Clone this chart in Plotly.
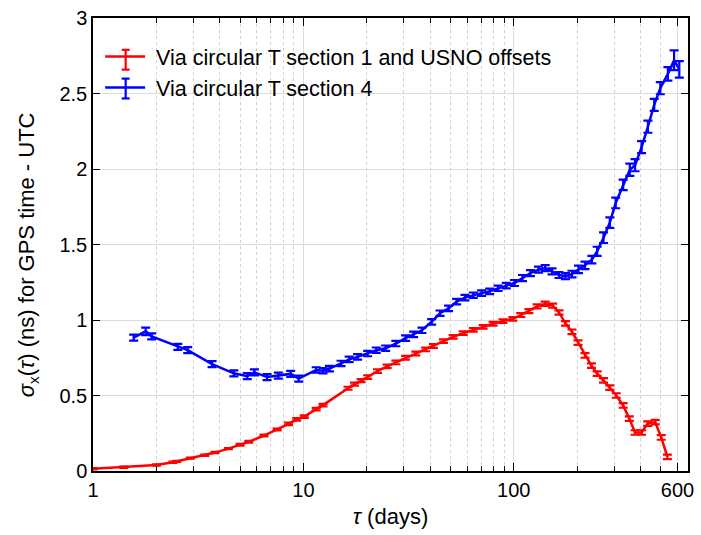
import plotly.graph_objects as go

# Averaging time (days) and deviation (ns) for the two GPS time - UTC estimates
tau_red = [1.0, 1.4, 2.0, 2.4, 2.5, 2.9, 3.4, 3.8, 4.4, 5.0, 5.5, 6.5, 7.5, 8.5,
           9.3, 10.1, 11.5, 12.4, 16.3, 17.5, 18.8, 20.2, 22.5, 25.0, 27.5, 30.6,
           34.2, 38.1, 41.5, 46.3, 51.5, 57.5, 64.2, 71.5, 79.8, 88.8, 99, 108,
           118, 129, 141, 153, 164, 176, 189, 202, 218, 234, 249, 267, 286, 307,
           331, 354, 377, 405, 433, 470, 502, 537]
sigma_red = [0.015, 0.025, 0.040, 0.058, 0.064, 0.085, 0.104, 0.122, 0.148, 0.174,
             0.193, 0.235, 0.275, 0.312, 0.342, 0.360, 0.410, 0.436, 0.548, 0.575,
             0.598, 0.622, 0.662, 0.693, 0.719, 0.750, 0.778, 0.805, 0.828, 0.860,
             0.888, 0.913, 0.935, 0.955, 0.975, 0.993, 1.008, 1.033, 1.059, 1.090,
             1.108, 1.095, 1.050, 0.978, 0.922, 0.850, 0.765, 0.698, 0.645, 0.600,
             0.552, 0.500, 0.434, 0.347, 0.255, 0.255, 0.314, 0.324, 0.222, 0.094]
err_red = [0.004, 0.004, 0.004, 0.004, 0.004, 0.004, 0.004, 0.004, 0.004, 0.006,
           0.006, 0.006, 0.006, 0.008, 0.008, 0.008, 0.008, 0.008, 0.010, 0.010,
           0.010, 0.012, 0.012, 0.012, 0.012, 0.012, 0.012, 0.012, 0.012, 0.012,
           0.012, 0.012, 0.012, 0.012, 0.012, 0.012, 0.012, 0.013, 0.013, 0.013,
           0.014, 0.014, 0.014, 0.015, 0.015, 0.015, 0.015, 0.015, 0.015, 0.015,
           0.015, 0.015, 0.015, 0.015, 0.015, 0.015, 0.015, 0.015, 0.015, 0.015]

tau_blue = [1.56, 1.78, 1.90, 2.53, 2.82, 3.68, 4.67, 5.41, 5.85, 6.72, 7.60, 8.70,
            9.50, 11.5, 12.4, 13.3, 15.1, 16.5, 18.1, 20.2, 22.2, 24.6, 27.5, 30.6,
            33.4, 36.6, 40.7, 44.6, 49.0, 53.5, 58.6, 64.2, 70.3, 76.8, 84.2, 92.1,
            100.8, 110, 120, 131, 141, 152, 164, 176, 189, 203, 218, 235, 249, 267,
            286, 305, 331, 356, 377, 405, 434, 465, 497, 540, 578, 612]
sigma_blue = [0.883, 0.925, 0.892, 0.822, 0.800, 0.708, 0.647, 0.628, 0.653, 0.622,
              0.632, 0.643, 0.612, 0.669, 0.664, 0.678, 0.712, 0.739, 0.756, 0.778,
              0.800, 0.813, 0.844, 0.880, 0.905, 0.932, 0.988, 1.045, 1.077, 1.122,
              1.148, 1.164, 1.178, 1.190, 1.210, 1.228, 1.245, 1.278, 1.310, 1.333,
              1.344, 1.322, 1.298, 1.290, 1.304, 1.335, 1.362, 1.400, 1.455, 1.545,
              1.645, 1.775, 1.895, 1.995, 2.025, 2.145, 2.280, 2.425, 2.535, 2.630,
              2.720, 2.660]
err_blue = [0.020, 0.025, 0.020, 0.020, 0.020, 0.020, 0.020, 0.020, 0.020, 0.020,
            0.020, 0.020, 0.020, 0.018, 0.018, 0.018, 0.018, 0.018, 0.018, 0.018,
            0.018, 0.018, 0.018, 0.018, 0.018, 0.018, 0.018, 0.018, 0.018, 0.018,
            0.018, 0.018, 0.018, 0.018, 0.018, 0.018, 0.020, 0.020, 0.020, 0.020,
            0.020, 0.020, 0.020, 0.020, 0.022, 0.025, 0.025, 0.025, 0.030, 0.035,
            0.035, 0.035, 0.035, 0.040, 0.040, 0.040, 0.040, 0.040, 0.040, 0.045,
            0.065, 0.055]

series_names = ["Via circular T section 1 and USNO offsets", "Via circular T section 4"]
series_colors = ["#ff0000", "#0000ff"]

x_tickvals = [1, 10, 100, 600]
x_ticktext = ["1", "10", "100", "600"]
x_minorvals = [2, 3, 4, 5, 6, 7, 8, 9, 20, 30, 40, 50, 60, 70, 80, 90,
               200, 300, 400, 500]
y_tickvals = [0, 0.5, 1, 1.5, 2, 2.5, 3]
y_ticktext = ["0", "0.5", "1", "1.5", "2", "2.5", "3"]

FONT = "Liberation Sans, Arial, Helvetica, sans-serif"

fig = go.Figure()
for tau, sig, err, name, color in [
    (tau_red, sigma_red, err_red, series_names[0], series_colors[0]),
    (tau_blue, sigma_blue, err_blue, series_names[1], series_colors[1]),
]:
    fig.add_trace(go.Scatter(
        x=tau, y=sig, mode="lines",
        name="&nbsp;" + name,
        line=dict(color=color, width=2.5),
        error_y=dict(type="data", array=err, color=color, thickness=2.2, width=4.5),
    ))

axis_common = dict(
    showline=True, linecolor="black", linewidth=1.5, mirror="allticks",
    ticks="inside", tickcolor="black", tickwidth=1.2,
    tickfont=dict(family=FONT, size=20, color="black"),
    zeroline=False,
)

fig.update_xaxes(
    type="log", range=[0, 2.828],
    tickvals=x_tickvals, ticktext=x_ticktext, ticklen=8,
    showgrid=True, gridcolor="#dcdcdc", gridwidth=1,
    minor=dict(tickvals=x_minorvals, ticks="inside", ticklen=5, tickcolor="black",
               showgrid=True, gridcolor="#d2d2d2", griddash="dot", gridwidth=1),
    title=dict(text="<i>τ</i> (days)", font=dict(family=FONT, size=22, color="black"),
               standoff=9),
    **axis_common,
)
fig.update_yaxes(
    range=[0, 3], tickvals=y_tickvals, ticktext=y_ticktext, ticklen=7,
    showgrid=True, gridcolor="#dcdcdc", gridwidth=1,
    **axis_common,
)

# y-axis label
fig.add_annotation(
    xref="paper", yref="paper", x=-0.108, y=0.478,
    xanchor="center", yanchor="middle",
    text="<i>σ</i><sub>x</sub>(<i>τ</i>) (ns) for GPS time - UTC",
    textangle=-90, showarrow=False,
    font=dict(family=FONT, size=22, color="black"),
)

# white panel behind the legend (hides the grid, stays under the curves)
fig.add_shape(type="rect", xref="paper", yref="paper",
              x0=0.003, x1=0.827, y0=0.809, y1=0.945,
              fillcolor="white", line=dict(width=0), layer="between")

# error-bar glyphs on the legend keys
icon_x = 0.0549
for yc, color in zip([0.9079, 0.8443], series_colors):
    h, w = 0.0219, 0.0067
    fig.add_shape(type="line", xref="paper", yref="paper",
                  x0=icon_x, x1=icon_x, y0=yc - h, y1=yc + h,
                  line=dict(color=color, width=2.2), layer="above")
    for yy in (yc - h, yc + h):
        fig.add_shape(type="line", xref="paper", yref="paper",
                      x0=icon_x - w, x1=icon_x + w, y0=yy, y1=yy,
                      line=dict(color=color, width=2.2), layer="above")

fig.update_layout(
    width=701, height=535,
    margin=dict(l=93, r=7, t=15, b=64),
    paper_bgcolor="white", plot_bgcolor="white",
    showlegend=True,
    legend=dict(
        x=0.012, y=0.96, xanchor="left", yanchor="top",
        bgcolor="rgba(0,0,0,0)", borderwidth=0,
        font=dict(family=FONT, size=21.5, color="black"),
        tracegroupgap=0, itemwidth=40,
    ),
)

fig.write_html("out.html")
